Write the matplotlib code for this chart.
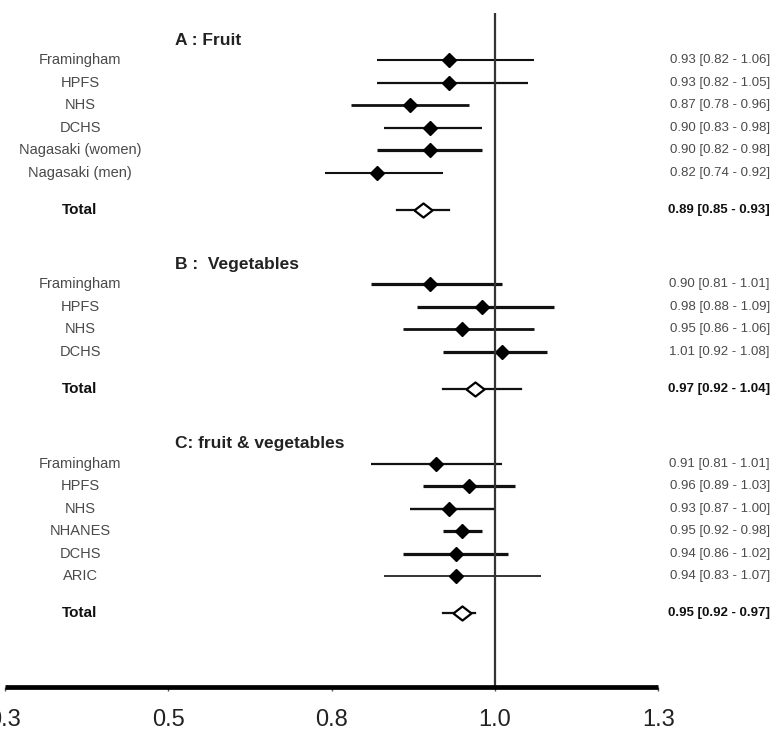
import matplotlib
matplotlib.use("Agg")
import matplotlib.pyplot as plt

plt.rcParams['font.family'] = ['Liberation Sans', 'DejaVu Sans']

# --- data ---
fruit_studies = ['Framingham', 'HPFS', 'NHS', 'DCHS', 'Nagasaki (women)', 'Nagasaki (men)']
fruit_rr = [0.93, 0.93, 0.87, 0.90, 0.90, 0.82]
fruit_lo = [0.82, 0.82, 0.78, 0.83, 0.82, 0.74]
fruit_hi = [1.06, 1.05, 0.96, 0.98, 0.98, 0.92]
fruit_total = [0.89, 0.85, 0.93]

veg_studies = ['Framingham', 'HPFS', 'NHS', 'DCHS']
veg_rr = [0.90, 0.98, 0.95, 1.01]
veg_lo = [0.81, 0.88, 0.86, 0.92]
veg_hi = [1.01, 1.09, 1.06, 1.08]
veg_total = [0.97, 0.92, 1.04]

fv_studies = ['Framingham', 'HPFS', 'NHS', 'NHANES', 'DCHS', 'ARIC']
fv_rr = [0.91, 0.96, 0.93, 0.95, 0.94, 0.94]
fv_lo = [0.81, 0.89, 0.87, 0.92, 0.86, 0.83]
fv_hi = [1.01, 1.03, 1.00, 0.98, 1.02, 1.07]
fv_total = [0.95, 0.92, 0.97]

group_titles = ['A : Fruit', 'B :  Vegetables', 'C: fruit & vegetables']

tick_vals = [0.25, 0.5, 0.75, 1.0, 1.25]
tick_labels = ['0.3', '0.5', '0.8', '1.0', '1.3']

# line thickness per study row (the original varies it by weight)
line_w = [[1.5, 1.6, 2.0, 1.6, 2.3, 1.5],
          [2.3, 2.3, 2.0, 2.3],
          [1.6, 2.3, 1.7, 2.3, 2.3, 1.2]]

groups = [
    (fruit_studies, fruit_rr, fruit_lo, fruit_hi, fruit_total),
    (veg_studies, veg_rr, veg_lo, veg_hi, veg_total),
    (fv_studies, fv_rr, fv_lo, fv_hi, fv_total),
]

fig = plt.figure(figsize=(7.73, 7.34), dpi=100)
ax = fig.add_axes([0, 0, 1, 1])
ax.set_xlim(0.2431, 1.4251)
ax.set_ylim(29.96, -2.67)

label_col = '#4a4a4a'
diamond = [(-1, 0), (0, 0.78), (1, 0), (0, -0.78), (-1, 0)]

y = 0.0
for g, (names, rr, lo, hi, tot) in enumerate(groups):
    ax.text(0.2264, y - 0.88, group_titles[g], transform=ax.get_yaxis_transform(),
            ha='left', va='center', fontsize=12.5, fontweight='bold', color='#222222')
    for i in range(len(names)):
        yy = y + i
        ax.plot([lo[i], hi[i]], [yy, yy], color='#111111', lw=line_w[g][i],
                solid_capstyle='butt')
        ax.plot(rr[i], yy, marker='D', ms=7, color='black')
        ax.text(0.1035, yy, names[i], transform=ax.get_yaxis_transform(),
                ha='center', va='center', fontsize=10.5, color=label_col)
        ax.text(0.996, yy, f"{rr[i]:.2f} [{lo[i]:.2f} - {hi[i]:.2f}]",
                transform=ax.get_yaxis_transform(),
                ha='right', va='center', fontsize=9.5, color=label_col)
    ty = y + len(names) - 1 + 1.65
    ax.plot([tot[1], tot[2]], [ty, ty], color='#111111', lw=1.6)
    ax.plot(tot[0], ty, marker=diamond, ms=13, mfc='white', mec='black', mew=1.6)
    ax.text(0.1035, ty, 'Total', transform=ax.get_yaxis_transform(),
            ha='center', va='center', fontsize=11, fontweight='bold', color='#111111')
    ax.text(0.996, ty, f"{tot[0]:.2f} [{tot[1]:.2f} - {tot[2]:.2f}]",
            transform=ax.get_yaxis_transform(),
            ha='right', va='center', fontsize=9.5, fontweight='bold', color='#111111')
    y = ty + 3.32

axis_y = 27.87
ax.vlines(1.0, -2.1, axis_y, color='#333333', lw=1.6)

for s in ['top', 'left', 'right']:
    ax.spines[s].set_visible(False)
ax.spines['bottom'].set_position(('data', axis_y))
ax.spines['bottom'].set_bounds(tick_vals[0], tick_vals[-1])
ax.spines['bottom'].set_linewidth(3.4)
ax.spines['bottom'].set_capstyle('butt')
ax.set_xticks(tick_vals)
ax.set_xticklabels(tick_labels)
ax.tick_params(axis='x', direction='out', length=3, width=1, pad=13,
               labelsize=17, labelcolor='#222222', color='#555555')
ax.set_yticks([])

fig.savefig('out.png', dpi=100)
